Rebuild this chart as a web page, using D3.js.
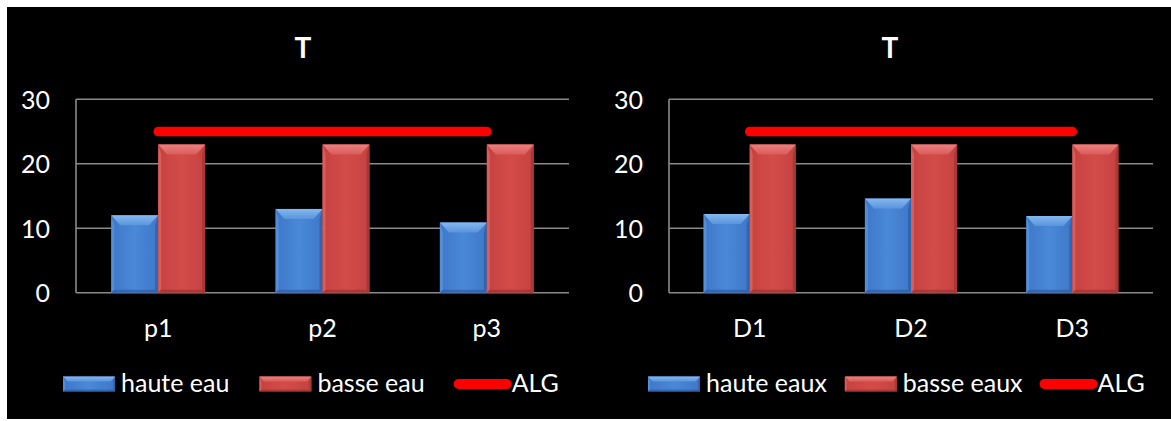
<!DOCTYPE html>
<html>
<head>
<meta charset="utf-8">
<script src="https://cdn.jsdelivr.net/npm/d3@7"></script>
<style>
  html, body { margin: 0; padding: 0; background: #ffffff; }
  svg { display: block; }
  text { font-family: Lato, "Open Sans", sans-serif; fill: #ffffff; }
</style>
</head>
<body>
<svg id="chart" width="1171" height="421"></svg>
<script>
// ---------- DATA ----------
const titleLeft = "T";
const categoriesLeft = ["p1", "p2", "p3"];
const hauteLeft = [12, 13, 10.9];
const basseLeft = [23, 23, 23];
const algLeft = [25, 25, 25];
const legendLeft = ["haute eau", "basse eau", "ALG"];

const titleRight = "T";
const categoriesRight = ["D1", "D2", "D3"];
const hauteRight = [12.2, 14.6, 11.9];
const basseRight = [23, 23, 23];
const algRight = [25, 25, 25];
const legendRight = ["haute eaux", "basse eaux", "ALG"];

const yTicks = [0, 10, 20, 30];
const yMax = 30;

// ---------- DRAW ----------
const svg = d3.select("#chart");
svg.append("rect").attr("x", 0).attr("y", 0).attr("width", 1171).attr("height", 421).attr("fill", "#ffffff");
svg.append("rect").attr("x", 7).attr("y", 7).attr("width", 1164).attr("height", 412).attr("fill", "#000000");

const defs = svg.append("defs");
function hGrad(id, stops) {
  const g = defs.append("linearGradient").attr("id", id).attr("x1", "0").attr("x2", "1").attr("y1", "0").attr("y2", "0");
  stops.forEach(s => g.append("stop").attr("offset", s[0]).attr("stop-color", s[1]));
}
function vGrad(id, stops) {
  const g = defs.append("linearGradient").attr("id", id).attr("x1", "0").attr("x2", "0").attr("y1", "0").attr("y2", "1");
  stops.forEach(s => g.append("stop").attr("offset", s[0]).attr("stop-color", s[1]));
}
hGrad("blueFace", [[0, "#3f78c8"], [0.5, "#4a88d8"], [1, "#3f78c8"]]);
hGrad("redFace", [[0, "#c44240"], [0.5, "#d44c4a"], [1, "#c44240"]]);
vGrad("blueTop", [[0, "#84b8f0"], [1, "#5a94dc"]]);
vGrad("redTop", [[0, "#ec807e"], [1, "#da5c5a"]]);

const palette = {
  blue: { face: "url(#blueFace)", top: "url(#blueTop)", left: "#5a92dc", right: "#2f62ac", bottom: "#2d5ca2" },
  red:  { face: "url(#redFace)",  top: "url(#redTop)",  left: "#dc6462", right: "#a33634", bottom: "#9c3230" }
};

function bevelBar(g, x, y, w, h, pal, bt, bs) {
  if (h <= 0) return;
  const t = Math.min(bt, h / 2);
  g.append("rect").attr("x", x).attr("y", y).attr("width", w).attr("height", h).attr("fill", pal.face);
  g.append("polygon").attr("points", [[x, y], [x + bs, y + t], [x + bs, y + h - bs], [x, y + h]].join(" ")).attr("fill", pal.left).attr("opacity", 0.8);
  g.append("polygon").attr("points", [[x + w, y], [x + w - bs, y + t], [x + w - bs, y + h - bs], [x + w, y + h]].join(" ")).attr("fill", pal.right).attr("opacity", 0.85);
  g.append("polygon").attr("points", [[x, y + h], [x + bs, y + h - bs], [x + w - bs, y + h - bs], [x + w, y + h]].join(" ")).attr("fill", pal.bottom).attr("opacity", 0.7);
  const inset = Math.min(t * 0.9, w / 3);
  g.append("polygon").attr("points", [[x, y], [x + w, y], [x + w - inset, y + t], [x + inset, y + t]].join(" ")).attr("fill", pal.top);
}

function drawPanel(cfg) {
  const g = svg.append("g");
  const x = d3.scaleBand().domain(cfg.categories).range([cfg.left, cfg.right]).paddingInner(0).paddingOuter(0);
  const y = d3.scaleLinear().domain([0, yMax]).range([cfg.bottom, cfg.top]);
  const barW = x.bandwidth() / 3.5;

  g.append("g").selectAll("line").data(yTicks).join("line")
    .attr("x1", cfg.left).attr("x2", cfg.right)
    .attr("y1", d => y(d)).attr("y2", d => y(d))
    .attr("stroke", "#8a8a8a").attr("stroke-width", 1.6);
  g.append("line").attr("x1", cfg.left).attr("x2", cfg.left).attr("y1", y(yMax)).attr("y2", y(0))
    .attr("stroke", "#8a8a8a").attr("stroke-width", 1.6);

  const yAxis = d3.axisLeft(y).tickValues(yTicks).tickSize(0).tickPadding(26);
  const ya = g.append("g").attr("transform", `translate(${cfg.left},0)`).call(yAxis);
  ya.select(".domain").remove();
  ya.selectAll("text").attr("font-size", 25).attr("fill", "#ffffff").attr("font-family", "Lato, sans-serif").attr("dy", "0.36em");

  const xAxis = d3.axisBottom(x).tickSize(0).tickPadding(27);
  const xa = g.append("g").attr("transform", `translate(0,${cfg.bottom})`).call(xAxis);
  xa.select(".domain").remove();
  xa.selectAll("text").attr("font-size", 25).attr("fill", "#ffffff").attr("font-family", "Lato, sans-serif");

  cfg.categories.forEach((c, i) => {
    const cx = x(c) + x.bandwidth() / 2;
    const hb = g.append("g");
    bevelBar(hb, cx - barW, y(cfg.haute[i]), barW, y(0) - y(cfg.haute[i]), palette.blue, 10, 3);
    bevelBar(hb, cx, y(cfg.basse[i]), barW, y(0) - y(cfg.basse[i]), palette.red, 10, 3);
  });

  const line = d3.line().x((d, i) => x(cfg.categories[i]) + x.bandwidth() / 2).y(d => y(d));
  g.append("path").datum(cfg.alg).attr("d", line).attr("fill", "none")
    .attr("stroke", "#ff0000").attr("stroke-width", 9.5).attr("stroke-linecap", "round");

  g.append("text").attr("x", cfg.titleX).attr("y", 58).attr("text-anchor", "middle")
    .attr("font-size", 28).attr("font-weight", "bold").text(cfg.title);

  const lg = g.append("g");
  let lx = cfg.legendX;
  const ly = 384;
  cfg.legend.forEach((lab, i) => {
    if (i < 2) {
      bevelBar(lg, lx, ly - 7.5, 52, 15, i === 0 ? palette.blue : palette.red, 5, 2);
    } else {
      lg.append("line").attr("x1", lx + 4).attr("x2", lx + 52).attr("y1", ly).attr("y2", ly)
        .attr("stroke", "#ff0000").attr("stroke-width", 10).attr("stroke-linecap", "round");
    }
    const off = i < 2 ? 58 : 57;
    const t = lg.append("text").attr("x", lx + off).attr("y", ly + 8).attr("font-size", 25).text(lab);
    lx += off + t.node().getComputedTextLength() + cfg.legendGap;
  });
}

drawPanel({
  title: titleLeft, categories: categoriesLeft, haute: hauteLeft, basse: basseLeft, alg: algLeft, legend: legendLeft,
  left: 76, right: 569, top: 99.3, bottom: 292.7, titleX: 303, legendX: 63, legendGap: 30
});
drawPanel({
  title: titleRight, categories: categoriesRight, haute: hauteRight, basse: basseRight, alg: algRight, legend: legendRight,
  left: 669, right: 1153, top: 99.3, bottom: 292.7, titleX: 890, legendX: 648, legendGap: 18
});
</script>
</body>
</html>
